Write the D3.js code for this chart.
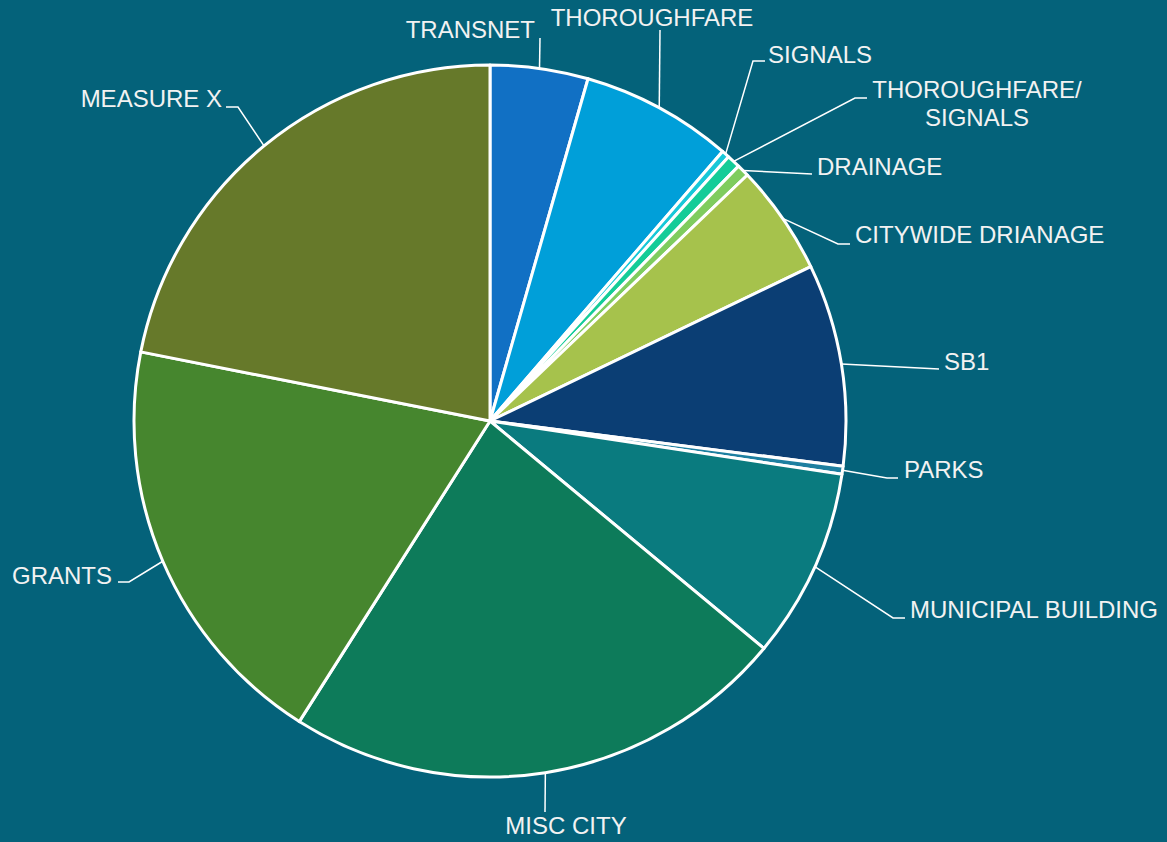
<!DOCTYPE html>
<html lang="en">

<head>
	<meta charset="UTF-8">
	<title>Funding Sources</title>

	<style>
		body {
			margin: 0;
			background: #04627a;
		}

		text {
			font-family: "Liberation Sans", Arial, sans-serif;
			font-size: 24px;
			fill: #f2f2f2;
		}
	</style>

	<script src="https://d3js.org/d3.v7.min.js"></script>

</head>

<body>
	<script type="text/javascript">
		// share of each funding source, in percent, clockwise from 12 o'clock
		const categories = ["TRANSNET", "THOROUGHFARE", "SIGNALS", "THOROUGHFARE/SIGNALS", "DRAINAGE",
			"CITYWIDE DRIANAGE", "SB1", "PARKS", "MUNICIPAL BUILDING", "MISC CITY", "GRANTS", "MEASURE X"
		];
		const values = [4.44, 6.89, 0.36, 0.61, 0.56, 5.0, 9.17, 0.36, 8.64, 22.97, 19.11, 21.89];
		const colors = ["#1170c4", "#009fd9", "#17c8d8", "#14cc98", "#7fcc5e", "#a6c24c", "#0b3e74",
			"#1d7fa0", "#0a7b7f", "#0d7b5a", "#46862e", "#66792a"
		];

		// label text lines
		const labelLines = [
			["TRANSNET"], ["THOROUGHFARE"], ["SIGNALS"], ["THOROUGHFARE/", "SIGNALS"], ["DRAINAGE"],
			["CITYWIDE DRIANAGE"], ["SB1"], ["PARKS"], ["MUNICIPAL BUILDING"], ["MISC CITY"], ["GRANTS"], ["MEASURE X"]
		];

		let width = 1167;
		let height = 842;
		const cx = 490,
			cy = 421,
			radius = 356;

		// leader layout: elbow point, end of horizontal tail, text position and anchor
		const labelLayout = [
			{ elbow: [540, 38], tail: 540, tx: 535, ty: 38, anchor: "end" },
			{ elbow: [660, 30], tail: 660, tx: 652, ty: 26, anchor: "middle" },
			{ elbow: [753, 61], tail: 765, tx: 768, ty: 63, anchor: "start" },
			{ elbow: [855, 98], tail: 867, tx: 977, ty: 98, anchor: "middle" },
			{ elbow: [812, 174], tail: 812, tx: 817, ty: 175, anchor: "start" },
			{ elbow: [838, 244], tail: 850, tx: 855, ty: 243, anchor: "start" },
			{ elbow: [939, 369], tail: 939, tx: 944, ty: 370, anchor: "start" },
			{ elbow: [887, 478], tail: 898, tx: 904, ty: 478, anchor: "start" },
			{ elbow: [893, 618], tail: 905, tx: 910, ty: 618, anchor: "start" },
			{ elbow: [545, 812], tail: 545, tx: 566, ty: 834, anchor: "middle" },
			{ elbow: [129, 582], tail: 118, tx: 112, ty: 584, anchor: "end" },
			{ elbow: [238, 107], tail: 226, tx: 222, ty: 107, anchor: "end" }
		];

		const data = categories.map((c, i) => ({ name: c, value: values[i], color: colors[i], lines: labelLines[i] }));

		const svg = d3.select("body").append("svg")
			.attr("width", width)
			.attr("height", height);

		svg.append("rect")
			.attr("width", width)
			.attr("height", height)
			.attr("fill", "#04627a");

		const pie = d3.pie()
			.value(d => d.value)
			.sort(null);

		const arc = d3.arc()
			.innerRadius(0)
			.outerRadius(radius);

		const arcs = pie(data);

		const g = svg.append("g")
			.attr("transform", `translate(${cx},${cy})`);

		g.selectAll(".slice")
			.data(arcs)
			.join("path")
			.attr("class", "slice")
			.attr("d", arc)
			.attr("fill", d => d.data.color)
			.attr("stroke", "white")
			.attr("stroke-width", 3)
			.attr("stroke-linejoin", "round");

		// leader lines from the middle of each outer edge
		svg.selectAll(".leader")
			.data(arcs)
			.join("polyline")
			.attr("class", "leader")
			.attr("fill", "none")
			.attr("stroke", "white")
			.attr("stroke-width", 1.5)
			.attr("points", (d, i) => {
				const a = (d.startAngle + d.endAngle) / 2;
				const x0 = cx + radius * Math.sin(a);
				const y0 = cy - radius * Math.cos(a);
				const L = labelLayout[i];
				return [[x0, y0], L.elbow, [L.tail, L.elbow[1]]].map(p => p.join(",")).join(" ");
			});

		const labels = svg.selectAll(".label")
			.data(arcs)
			.join("text")
			.attr("class", "label")
			.attr("x", (d, i) => labelLayout[i].tx)
			.attr("y", (d, i) => labelLayout[i].ty)
			.attr("text-anchor", (d, i) => labelLayout[i].anchor);

		labels.selectAll("tspan")
			.data((d, i) => d.data.lines.map(t => ({ t: t, i: i })))
			.join("tspan")
			.attr("x", d => labelLayout[d.i].tx)
			.attr("dy", (d, j) => j === 0 ? 0 : 28)
			.text(d => d.t);
	</script>

</body>

</html>
